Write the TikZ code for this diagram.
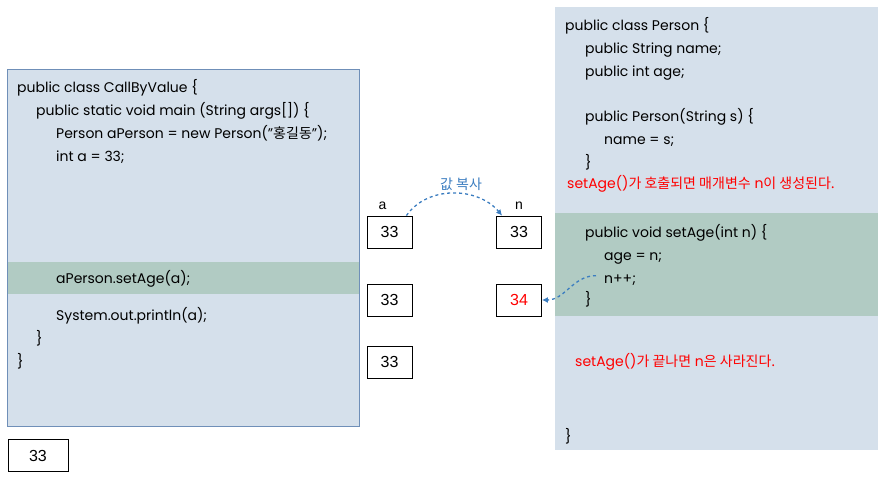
\documentclass[tikz,border=0pt]{standalone}
\usepackage{fontspec}
\setmainfont{Poppins}
\newfontfamily\kr{Noto Sans CJK KR}
\newfontfamily\numfont{Liberation Sans}
\usetikzlibrary{positioning, arrows.meta, calc}
\definecolor{panel}{HTML}{D5E0EB}
\definecolor{band}{HTML}{B1CBC3}
\definecolor{panelline}{HTML}{6F8FB8}
\definecolor{copyblue}{HTML}{3B7DC0}
\definecolor{note}{HTML}{FF0000}

\begin{document}
\begin{tikzpicture}[x=1pt, y=-1pt,
    code/.style={anchor=base west, inner sep=0pt, font=\fontsize{14}{16}\selectfont},
    memo/.style={code, text=note},
    valbox/.style={draw, line width=0.8pt, minimum width=45pt, minimum height=32pt, inner sep=0pt, font=\numfont\fontsize{16}{18}\selectfont},
    varname/.style={inner sep=1pt, font=\numfont\fontsize{14}{16}\selectfont},
    copyline/.style={copyblue, dashed, line width=1.3pt, -{Latex[length=6pt,width=6pt]}}]
    \useasboundingbox (0,0) rectangle (893,498);

    % panels
    \fill[panel] (7,69) rectangle (359,426);
    \fill[band] (7,262) rectangle (359,294);
    \draw[panelline, line width=0.8pt] (7,69) rectangle (359,426);
    \fill[panel] (555,7) rectangle (878,450);
    \fill[band] (555,213) rectangle (878,316);

    % CallByValue
    \node[code] (l1) at (17,92) {public class CallByValue \{};
    \node[code] (l2) at (36,115) {public static void main (String args[]) \{};
    \node[code] (l3) at (56,138) {Person aPerson = new Person("{\kr 홍길동}");};
    \node[code] (l4) at (56,161) {int a = 33;};
    \node[code] (l5) at (56,283) {aPerson.setAge(a);};
    \node[code] (l6) at (56,320) {System.out.println(a);};
    \node[code] (l7) at (36,343) {\}};
    \node[code] (l8) at (17,366) {\}};

    % Person
    \node[code] (p1) at (565,30) {public class Person \{};
    \node[code] (p2) at (585,53) {public String name;};
    \node[code] (p3) at (585,76) {public int age;};
    \node[code] (p4) at (585,121) {public Person(String s) \{};
    \node[code] (p5) at (604,144) {name = s;};
    \node[code] (p6) at (585,167) {\}};
    \node[memo] (m1) at (567,188) {setAge(){\kr 가 호출되면 매개변수} n{\kr 이 생성된다.}};
    \node[code] (p7) at (585,237) {public void setAge(int n) \{};
    \node[code] (p8) at (604,260) {age = n;};
    \node[code] (p9) at (604,283) {n++;};
    \node[code] (p10) at (585,304) {\}};
    \node[memo] (m2) at (575,366) {setAge(){\kr 가 끝나면} n{\kr 은 사라진다.}};
    \node[code] (p11) at (565,441) {\}};

    % values
    \node[valbox] (a1) at (389.5,232) {33};
    \node[valbox] (a2) at (389.5,300) {33};
    \node[valbox] (a3) at (389.5,362) {33};
    \node[valbox] (n1) at (519,232) {33};
    \node[valbox, text=note] (n2) at (519,300) {34};
    \node[valbox, minimum width=60pt] (out) at (38,455.5) {33};
    \node[varname, above=5pt of a1, xshift=-7pt] (la) {a};
    \node[varname, above=5pt of n1] (ln) {n};
    \node[text=copyblue, inner sep=0pt, font=\kr\fontsize{14}{16}\selectfont] (copy) at (461,184) {값 복사};

    \draw[copyline] ($(a1.north east)+(-6,0)$) to[out=55, in=130] ($(n1.north west)+(6,0)$);
    \draw[copyline] ($(p9.west)+(-8,-4)$) to[out=180, in=0] (n2.east);
\end{tikzpicture}
\end{document}
